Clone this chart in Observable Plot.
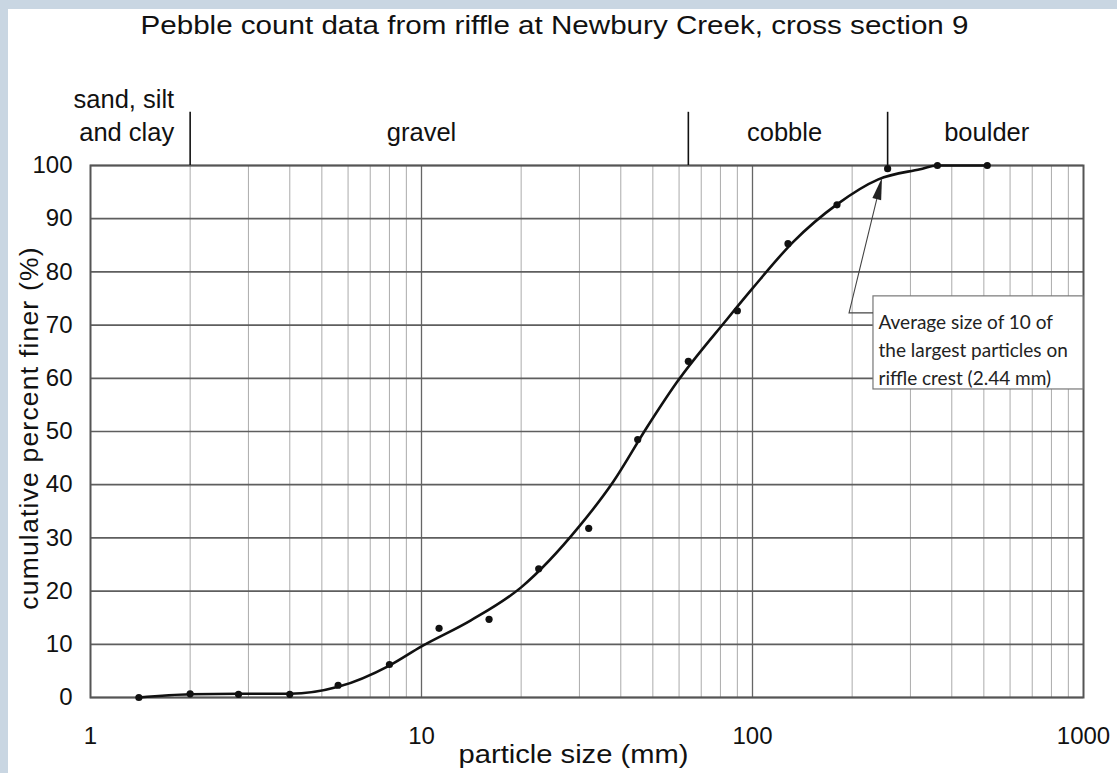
<!DOCTYPE html>
<html><head><meta charset="utf-8">
<script src="https://cdn.jsdelivr.net/npm/d3@7"></script>
<script src="https://cdn.jsdelivr.net/npm/@observablehq/plot@0.6"></script>
<style>
html,body{margin:0;padding:0;background:#c9d6e2;width:1117px;height:773px;overflow:hidden}
#chart{position:absolute;left:8px;top:9px;width:1109px;height:764px;background:#fff}
</style></head><body><div id="chart"></div>
<script>
// ---- data ----
const particleSize = [1.4, 2, 2.8, 4, 5.6, 8, 11.3, 16, 22.6, 32, 45, 64, 90, 128, 180, 256, 362, 512];
const percentFiner = [0, 0.7, 0.6, 0.6, 2.3, 6.2, 13.0, 14.7, 24.2, 31.8, 48.5, 63.2, 72.7, 85.3, 92.6, 99.4, 100, 100];

// hand-drawn fitted curve
const curveSize    = [1.4, 2, 2.8, 4, 5.6, 8, 10, 14.1, 20, 30, 38, 48, 59, 84, 100, 133, 180, 240, 321, 362, 512];
const curvePercent = [0, 0.6, 0.7, 0.7, 2.0, 6.0, 9.6, 14.5, 20.7, 32.2, 40.6, 50.8, 59.2, 71.2, 76.9, 85.7, 92.7, 97.4, 99.3, 100, 100];

const xTickValues = [1, 10, 100, 1000];
const yTickValues = [0, 10, 20, 30, 40, 50, 60, 70, 80, 90, 100];
const minorGrid = [1,2,3,4,5,6,7,8,9,10,20,30,40,50,60,70,80,90,100,200,300,400,500,600,700,800,900,1000];
const decadeGrid = [10, 100];

const classBoundaries = [2, 64, 256];
const finesLabel = "sand, silt\nand clay";
const finesLabelAt = 1.79;
const classNames = ["gravel", "cobble", "boulder"];
const classLabelAt = [10, 125, 510];

const titleText = "Pebble count data from riffle at Newbury Creek, cross section 9";
const xLabelText = "particle size (mm)";
const yLabelText = "cumulative percent finer (%)";

const noteLines = "Average size of 10 of\nthe largest particles on\nriffle crest (2.44 mm)";
const noteBox = {x1: 232, x2: 1000, y1: 57.9, y2: 75.4};
const noteArrow = [{x: 232, y: 72.2}, {x: 196.4, y: 72.2}, {x: 247, y: 97.6}];

// ---- tables ----
const points = particleSize.map((s, i) => ({size: s, pct: percentFiner[i]}));
const curve = curveSize.map((s, i) => ({size: s, pct: curvePercent[i]}));
const classes = classNames.map((n, i) => ({name: n, at: classLabelAt[i]}));

const font = "Liberation Sans, Arial, Helvetica, sans-serif";

function arrowRender(index, scales) {
  const X = scales.x, Y = scales.y;
  const pts = noteArrow.map(p => [X(p.x), Y(p.y)]);
  const g = d3.create("svg:g");
  const [a, b, c] = pts;
  const dx = c[0] - b[0], dy = c[1] - b[1];
  const len = Math.hypot(dx, dy), ux = dx / len, uy = dy / len;
  const headL = 22, headW = 4.5;
  const base = [c[0] - ux * headL, c[1] - uy * headL];
  g.append("path")
    .attr("d", `M${a[0]},${a[1]}L${b[0]},${b[1]}L${base[0]},${base[1]}`)
    .attr("fill", "none").attr("stroke", "#444").attr("stroke-width", 1.1);
  g.append("path")
    .attr("d", `M${c[0]},${c[1]}L${base[0] - uy * headW},${base[1] + ux * headW}L${base[0] + uy * headW},${base[1] - ux * headW}Z`)
    .attr("fill", "#222");
  return g.node();
}

const chart = Plot.plot({
  width: 1109,
  height: 764,
  marginLeft: 82,
  marginRight: 34,
  marginTop: 156,
  marginBottom: 76,
  style: {fontFamily: font, color: "#111", background: "transparent"},
  x: {type: "log", domain: [1, 1000]},
  y: {domain: [0, 100]},
  marks: [
    Plot.ruleX(minorGrid, {stroke: "#ababab", strokeWidth: 1}),
    Plot.ruleX(decadeGrid, {stroke: "#666", strokeWidth: 1.3}),
    Plot.ruleY(yTickValues, {stroke: "#5e5e5e", strokeWidth: 1.7}),
    Plot.frame({stroke: "#555", strokeWidth: 2}),
    Plot.ruleX(classBoundaries, {y1: 100, y2: 110, stroke: "#111", strokeWidth: 1.6}),
    Plot.axisY(yTickValues, {anchor: "left", tickSize: 0, tickPadding: 18, fontSize: 24, label: null, tickFormat: d => String(d)}),
    Plot.axisX(xTickValues, {anchor: "bottom", tickSize: 0, tickPadding: 29, fontSize: 24, label: null, tickFormat: d => String(d)}),
    Plot.text([finesLabel], {x: finesLabelAt, textAnchor: "end", frameAnchor: "top", dy: -25, lineAnchor: "bottom", lineHeight: 1.29, fontSize: 25.5, fill: "#111"}),
    Plot.text(classes, {x: "at", text: "name", frameAnchor: "top", dy: -25, lineAnchor: "bottom", fontSize: 25.5, fill: "#111"}),
    Plot.text([titleText], {frameAnchor: "top", dx: -32.5, dy: -132, lineAnchor: "bottom", fontSize: 26, fill: "#111"}),
    Plot.text([xLabelText], {frameAnchor: "bottom", dx: -13.5, dy: 65, lineAnchor: "bottom", fontSize: 26, fill: "#111"}),
    Plot.text([yLabelText], {frameAnchor: "left", textAnchor: "middle", rotate: -90, dx: -60.5, dy: -3.5, fontSize: 26.5, fill: "#111"}),
    Plot.line(curve, {x: "size", y: "pct", curve: "monotone-x", stroke: "#111", strokeWidth: 2.6}),
    Plot.dot(points, {x: "size", y: "pct", r: 3.6, fill: "#111"}),
    Plot.rect([noteBox], {x1: "x1", x2: "x2", y1: "y1", y2: "y2", fill: "white", stroke: "#777", strokeWidth: 1.2}),
    Plot.text([noteLines], {x: noteBox.x1, y: noteBox.y2, textAnchor: "start", lineAnchor: "top", dx: 5, dy: 13, lineHeight: 1.47, fontSize: 19, fontFamily: "Lato, Open Sans, sans-serif", fill: "#222"}),
    arrowRender
  ]
});

document.getElementById("chart").appendChild(chart);

// stretch the title and x-axis title to the reference widths
const stretch = {[titleText]: 828, [xLabelText]: 230};
chart.querySelectorAll("text").forEach(t => {
  const w = stretch[t.textContent];
  if (w) { t.setAttribute("textLength", w); t.setAttribute("lengthAdjust", "spacingAndGlyphs"); }
  if (t.textContent === yLabelText) t.style.letterSpacing = "1.2px";
});
</script></body></html>
